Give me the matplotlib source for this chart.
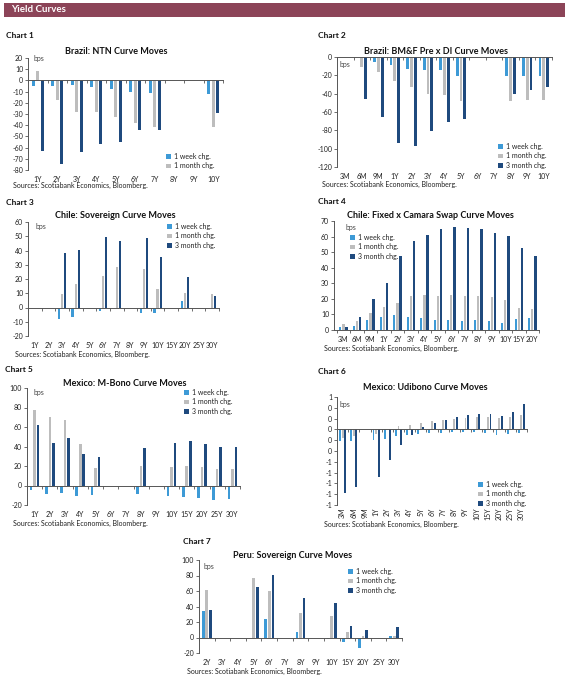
import matplotlib
matplotlib.use("Agg")
import matplotlib.pyplot as plt
from matplotlib.patches import Rectangle
import numpy as np

plt.rcParams['font.family'] = ['Lato', 'DejaVu Sans']

# ---------------- data ----------------
NaN = np.nan
series_labels = ["1 week chg.", "1 month chg.", "3 month chg."]

c1_cats = ["1Y", "2Y", "3Y", "4Y", "5Y", "6Y", "7Y", "8Y", "9Y", "10Y"]
c1_week = [-5, -5, -4, -6, -8, -10, -11.5, NaN, NaN, -12]
c1_month = [8, -17.5, -28, -28, -33, -38, -42, NaN, NaN, -42]
c1_3m = [-63, -74.5, -64, -57, -55, -44, -44, NaN, NaN, -29]

c2_cats = ["3M", "6M", "9M", "1Y", "2Y", "3Y", "4Y", "5Y", "6Y", "7Y", "8Y", "9Y", "10Y"]
c2_week = [NaN, 0, -5.4, -8.7, -13, -14, -14, -20.6, NaN, NaN, -20.6, -20.6, -20.6]
c2_month = [NaN, -11, -16, -26, -33, -40, -41, -48.5, NaN, NaN, -48, -46.6, -46.6]
c2_3m = [NaN, -45.5, -65, -94, -97.6, -81, -71, -68, NaN, NaN, -40, -36, -32.5]

c3_cats = ["1Y", "2Y", "3Y", "4Y", "5Y", "6Y", "7Y", "8Y", "9Y", "10Y", "15Y", "20Y", "25Y", "30Y"]
c3_week = [NaN, NaN, -7.9, -7, NaN, -2.8, NaN, NaN, -4.2, -4.2, NaN, 4.7, NaN, NaN]
c3_month = [NaN, NaN, 9.6, 16.5, NaN, 22.1, 28.7, NaN, 27, 13, NaN, 10.5, NaN, 9.8]
c3_3m = [NaN, NaN, 38.2, 40.3, NaN, 49.4, 46.9, NaN, 49, 35.4, NaN, 21.7, NaN, 8.4]

c4_cats = ["3M", "6M", "9M", "1Y", "2Y", "3Y", "4Y", "5Y", "6Y", "7Y", "8Y", "9Y", "10Y", "15Y", "20Y"]
c4_week = [1.7, 2.3, 6.4, 8.3, 9.6, 8.3, 7.7, 6.4, 6.4, 5.8, 6.4, 5.8, 4.5, 7, 7.7]
c4_month = [3.8, 5.8, 10.9, 14.5, 17.3, 21.7, 22.4, 21.7, 22.4, 21.7, 21.7, 21.1, 19, 13.9, 13.4]
c4_3m = [1.7, 8.3, 19.8, 30, 47.3, 56.9, 60.8, 64.6, 65.9, 65.2, 64.6, 62, 60.1, 52.5, 47.3]

c5_cats = ["1Y", "2Y", "3Y", "4Y", "5Y", "6Y", "7Y", "8Y", "9Y", "10Y", "15Y", "20Y", "25Y", "30Y"]
c5_week = [-5.1, -8.5, -7.2, -10.6, -9.5, NaN, NaN, -8.5, NaN, -10.6, -11.6, -12.6, -14.7, -13.6]
c5_month = [77.3, 70.2, 67.1, 42.6, 18, NaN, NaN, 20.1, NaN, 19.1, 20.1, 19.1, 17, 17]
c5_3m = [62, 43.6, 48.7, 32.4, 29.3, NaN, NaN, 38.5, NaN, 43.6, 45.7, 42.6, 39.5, 39.5]

c6_cats = ["3M", "6M", "9M", "1Y", "2Y", "3Y", "4Y", "5Y", "6Y", "7Y", "8Y", "9Y", "10Y", "15Y", "20Y", "25Y", "30Y"]
c6_week = [-0.22, -0.21, NaN, -0.20, -0.17, -0.12, -0.10, -0.08, -0.07, -0.06, -0.04, -0.04, -0.04, -0.06, -0.10, -0.08, -0.06]
c6_month = [-0.15, -0.12, NaN, -0.09, 0, 0.06, 0.09, 0.12, 0.16, 0.17, 0.19, 0.21, 0.23, 0.23, 0.21, 0.23, 0.26]
c6_3m = [-1.18, -1.07, NaN, -0.88, -0.56, -0.28, -0.10, 0.04, 0.12, 0.17, 0.23, 0.26, 0.28, 0.28, 0.25, 0.32, 0.47]

c7_cats = ["2Y", "3Y", "4Y", "5Y", "6Y", "7Y", "8Y", "9Y", "10Y", "15Y", "20Y", "25Y", "30Y"]
c7_week = [34.7, NaN, NaN, NaN, 24, NaN, 7.3, NaN, -1.3, -6.4, -14.1, NaN, 1.3]
c7_month = [61.3, NaN, NaN, 76.7, 60, NaN, 31.7, NaN, 27.8, 7.3, 1.3, NaN, 1.3]
c7_3m = [35.5, NaN, NaN, 65.1, 80.5, NaN, 51, NaN, 44.5, 15, 9.9, NaN, 14.1]

# ---------------- style ----------------
C_WEEK = "#3D9AD6"
C_MONTH = "#BDBDBD"
C_3M = "#1F4A7E"
HEADER = "#8C4458"
TXT = "#222222"
W, H = 586, 688

fig = plt.figure(figsize=(W / 100, H / 100), dpi=100)


def fx(x):
    return x / W


def fy(y):
    return 1 - y / H


def panel(num, box, cats, week, month, m3, ylim, step, title, title_xy, chart_xy,
          src_xy, bps_xy, leg_xy, leg_n=3, rot=0, fmt=None, xpad=0.0):
    l, r, t, b = box
    ax = fig.add_axes([fx(l), fy(b), fx(r - l), (b - t) / H])
    n = len(cats)
    x = np.arange(n)
    bw, off = 0.17, 0.23
    h1 = ax.bar(x - off, week, width=bw, color=C_WEEK, label=series_labels[0])
    h2 = ax.bar(x, month, width=bw, color=C_MONTH, label=series_labels[1])
    h3 = ax.bar(x + off, m3, width=bw, color=C_3M, label=series_labels[2])
    ax.set_xlim(-0.5 - xpad, n - 0.5)
    ax.set_ylim(*ylim)
    ticks = np.arange(ylim[0], ylim[1] + step / 2, step)
    ax.set_yticks(ticks)
    if fmt is None:
        ax.set_yticklabels([f"{int(round(v))}" for v in ticks])
    else:
        ax.set_yticklabels([fmt(v) for v in ticks])
    for s in ["top", "right"]:
        ax.spines[s].set_visible(False)
    ax.spines["left"].set_color("#555555")
    ax.spines["left"].set_linewidth(0.7)
    ax.spines["bottom"].set_position(("data", 0))
    ax.spines["bottom"].set_color("#555555")
    ax.spines["bottom"].set_linewidth(0.7)
    ax.tick_params(axis="y", length=2, width=0.6, color="#555555", labelsize=5,
                   labelcolor=TXT, pad=1.5)
    ax.set_xticks(x)
    ax.set_xticklabels([])
    ax.tick_params(axis="x", which="major", length=0)
    ax.set_xticks(np.arange(n + 1) - 0.5, minor=True)
    ax.tick_params(axis="x", which="minor", length=2, width=0.6, color="#555555",
                   direction="out")
    sec = ax.secondary_xaxis(0)
    sec.set_xticks(x)
    sec.set_xticklabels(cats, rotation=rot)
    sec.spines["bottom"].set_visible(False)
    sec.tick_params(length=0, labelsize=5, labelcolor=TXT, pad=4 if rot == 0 else 2)
    for lab in sec.get_xticklabels():
        lab.set_verticalalignment("top")
    fig.text(fx(title_xy[0]), fy(title_xy[1]), title, ha="center", va="center",
             fontsize=6.5, fontweight="bold", color="#111111")
    fig.text(fx(chart_xy[0]), fy(chart_xy[1]), f"Chart {num}", ha="left", va="center",
             fontsize=6, fontweight="bold", color="#111111")
    fig.text(fx(src_xy[0]), fy(src_xy[1]), "Sources: Scotiabank Economics, Bloomberg.",
             ha="left", va="center", fontsize=5, color=TXT)
    fig.text(fx(bps_xy[0]), fy(bps_xy[1]), "bps", ha="left", va="center",
             fontsize=5, color="#444444")
    handles = [h1, h2, h3][:leg_n]
    ax.legend(handles=handles, labels=series_labels[:leg_n], loc="upper left",
              bbox_to_anchor=(fx(leg_xy[0]), fy(leg_xy[1])),
              bbox_transform=fig.transFigure, frameon=False, fontsize=5,
              borderpad=0, borderaxespad=0, handlelength=0.7, handleheight=0.7,
              handletextpad=0.4, labelspacing=0.35, labelcolor=TXT)
    return ax


# header bar
fig.patches.append(Rectangle((fx(4), fy(17)), fx(561), 14 / H, transform=fig.transFigure,
                             facecolor=HEADER, edgecolor="none"))
fig.text(fx(11), fy(10), "Yield Curves", ha="left", va="center", fontsize=7,
         fontweight="bold", color="white")

panel(1, (28, 223, 58, 170), c1_cats, c1_week, c1_month, c1_3m, (-80, 20), 10,
      "Brazil: NTN Curve Moves", (116, 51), (6, 35), (13, 185), (33, 59), (166, 153),
      leg_n=2)
panel(2, (337, 552, 57, 167), c2_cats, c2_week, c2_month, c2_3m, (-120, 0), 20,
      "Brazil: BM&F Pre x DI Curve Moves", (436, 52), (318, 36), (322, 184),
      (340, 65), (498, 143))
panel(3, (28, 219, 222, 336), c3_cats, c3_week, c3_month, c3_3m, (-20, 60), 10,
      "Chile: Sovereign Curve Moves", (115, 216), (6, 202), (15, 354), (35, 227),
      (167, 223))
panel(4, (334, 539, 221, 330), c4_cats, c4_week, c4_month, c4_3m, (0, 70), 10,
      "Chile: Fixed x Camara Swap Curve Moves", (430, 215), (318, 201), (324, 348),
      (345, 228), (350, 234), xpad=0.2)
panel(5, (27, 240, 388, 505), c5_cats, c5_week, c5_month, c5_3m, (-20, 100), 20,
      "Mexico: M-Bono Curve Moves", (125, 383), (5, 370), (13, 523), (33, 392),
      (184, 389))


def fmt6(v):
    return f"{int(round(v))}"


panel(6, (337, 527, 397, 505), c6_cats, c6_week, c6_month, c6_3m, (-1.4, 0.6), 0.2,
      "Mexico: Udibono Curve Moves", (425, 388), (318, 372), (324, 524), (340, 404),
      (478, 481), rot=90, fmt=fmt6)
panel(7, (199, 402, 560, 653), c7_cats, c7_week, c7_month, c7_3m, (-20, 100), 20,
      "Peru: Sovereign Curve Moves", (293, 556), (183, 542), (187, 671), (204, 567),
      (348, 568))

fig.savefig("out.png", dpi=100)
